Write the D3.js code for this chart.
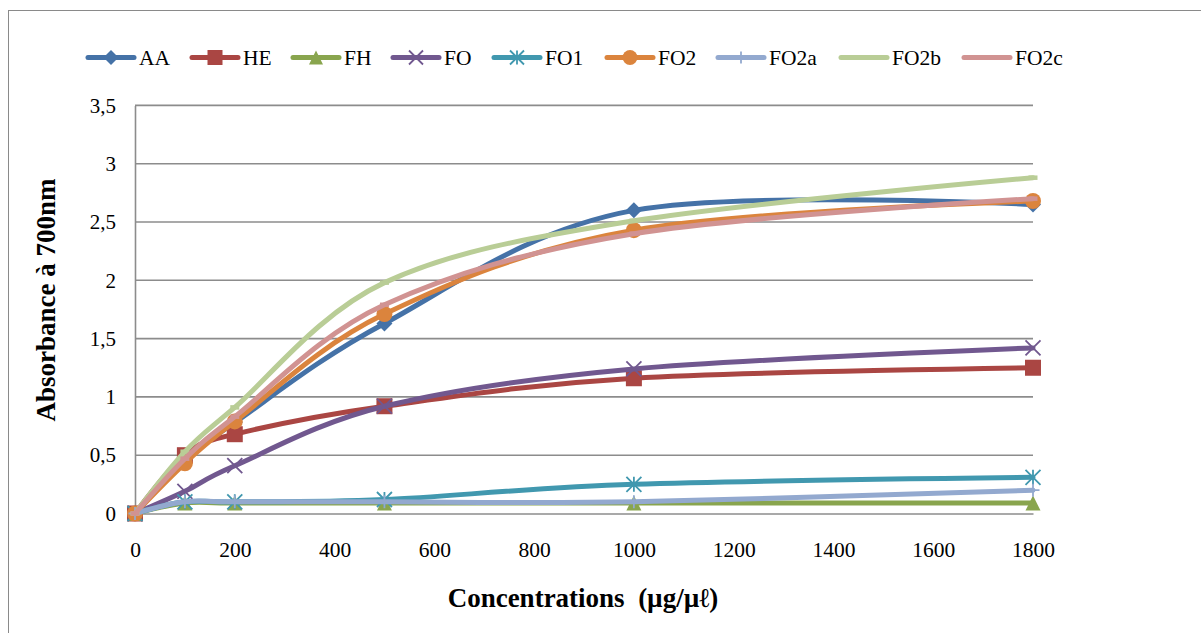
<!DOCTYPE html>
<html><head><meta charset="utf-8">
<script src="https://cdn.jsdelivr.net/npm/d3@7"></script>
<style>body{margin:0;background:#fff}svg{display:block}text{font-family:"Liberation Serif","Times New Roman",serif;fill:#000}</style>
</head><body><svg id="c" width="1201" height="633"></svg>
<script>
const concentrations = [0, 100, 200, 500, 1000, 1800];
const seriesNames = ["AA","HE","FH","FO","FO1","FO2","FO2a","FO2b","FO2c"];
const AA   = [0, 0.46, 0.78, 1.63, 2.60, 2.65];
const HE   = [0, 0.50, 0.68, 0.92, 1.16, 1.25];
const FH   = [0, 0.09, 0.09, 0.09, 0.09, 0.09];
const FO   = [0, 0.19, 0.41, 0.92, 1.24, 1.42];
const FO1  = [0, 0.10, 0.10, 0.12, 0.25, 0.31];
const FO2  = [0, 0.43, 0.79, 1.71, 2.43, 2.68];
const FO2a = [0, 0.10, 0.10, 0.10, 0.10, 0.20];
const FO2b = [0, 0.53, 0.91, 1.98, 2.51, 2.88];
const FO2c = [0, 0.47, 0.83, 1.79, 2.40, 2.70];
const xTicks = [0,200,400,600,800,1000,1200,1400,1600,1800];
const yTicks = [0,0.5,1,1.5,2,2.5,3,3.5];
const yTickLabels = ["0","0,5","1","1,5","2","2,5","3","3,5"];
const colors = ["#4572A7","#AA4643","#89A54E","#71588F","#4198AF","#DB843D","#93A9CF","#B9CD96","#D19392"];
const markers = ["diamond","square","triangle","x","star","circle","plus","dash","dash"];
const values = [AA,HE,FH,FO,FO1,FO2,FO2a,FO2b,FO2c];

const svg = d3.select("#c");
svg.append("rect").attr("x",8.5).attr("y",10.5).attr("width",1300).attr("height",700)
  .attr("fill","#fff").attr("stroke","#8a8a8a").attr("stroke-width",1);

const x = d3.scaleLinear().domain([0,1800]).range([135,1033]);
const y = d3.scaleLinear().domain([0,3.5]).range([513.5,105.4]);

// gridlines
svg.append("g").selectAll("line").data(yTicks.filter(d=>d>0)).join("line")
  .attr("x1",x(0)).attr("x2",x(1800)).attr("y1",d=>y(d)).attr("y2",d=>y(d))
  .attr("stroke","#8c8c8c").attr("stroke-width",1.6);

// axes
const yAxis = d3.axisLeft(y).tickValues(yTicks).tickFormat((d,i)=>yTickLabels[i]).tickSize(0).tickPadding(19);
const gy = svg.append("g").attr("transform",`translate(${x(0)},0)`).call(yAxis);
gy.select(".domain").attr("stroke","#8c8c8c").attr("stroke-width",1.6);
gy.selectAll("text").attr("font-size",21).style("font-family","'Liberation Serif',serif");

const xAxis = d3.axisBottom(x).tickValues(xTicks).tickFormat(d3.format("d")).tickSize(0).tickPadding(28);
const gx = svg.append("g").attr("transform",`translate(0,${y(0)})`).call(xAxis);
gx.select(".domain").attr("stroke","#8c8c8c").attr("stroke-width",1.6);
gx.selectAll("text").attr("font-size",21.5).style("font-family","'Liberation Serif',serif");

// marker drawing
function drawMarker(g, type, color, s) {
  const h = s/2;
  if (type==="diamond") g.append("path").attr("d",`M0,${-h}L${h},0L0,${h}L${-h},0Z`).attr("fill",color);
  else if (type==="square") g.append("rect").attr("x",-h).attr("y",-h).attr("width",s).attr("height",s).attr("fill",color);
  else if (type==="triangle") g.append("path").attr("d",`M0,${-h}L${h},${h}L${-h},${h}Z`).attr("fill",color);
  else if (type==="circle") g.append("circle").attr("r",h).attr("fill",color);
  else if (type==="x") g.append("path").attr("d",`M${-h},${-h}L${h},${h}M${h},${-h}L${-h},${h}`).attr("stroke",color).attr("stroke-width",1.8);
  else if (type==="star") g.append("path").attr("d",`M${-h},${-h}L${h},${h}M${h},${-h}L${-h},${h}M0,${-h}L0,${h}`).attr("stroke",color).attr("stroke-width",1.8);
  else if (type==="plus") g.append("path").attr("d",`M${-h},0L${h},0M0,${-h}L0,${h}`).attr("stroke",color).attr("stroke-width",1.8);
  else if (type==="dash") g.append("path").attr("d",`M${-h},0L${h},0`).attr("stroke",color).attr("stroke-width",4.5);
}

const line = d3.line().x((d,i)=>x(concentrations[i])).y(d=>y(d)).curve(d3.curveCardinal.tension(0));
const markerSize = {diamond:16,square:16,triangle:15,x:15,star:15,circle:16,plus:13,dash:9};

values.forEach((vals,si)=>{
  const g = svg.append("g");
  g.append("path").attr("d",line(vals)).attr("fill","none").attr("stroke",colors[si])
    .attr("stroke-width",5).attr("stroke-linejoin","round").attr("stroke-linecap","round");
  vals.forEach((v,i)=>{
    const mg = g.append("g").attr("transform",`translate(${x(concentrations[i])},${y(v)})`);
    drawMarker(mg, markers[si], colors[si], markerSize[markers[si]]);
  });
});

// legend
const legendX = [88,192,293,393,494,607,718,841,964];
const lg = svg.append("g");
seriesNames.forEach((n,i)=>{
  const x0 = legendX[i], yc = 57.5;
  lg.append("line").attr("x1",x0).attr("x2",x0+46).attr("y1",yc).attr("y2",yc)
    .attr("stroke",colors[i]).attr("stroke-width",5).attr("stroke-linecap","round");
  const mg = lg.append("g").attr("transform",`translate(${x0+23},${yc})`);
  if (markers[i]!=="dash") drawMarker(mg, markers[i], colors[i], markerSize[markers[i]]-1);
  lg.append("text").attr("x",x0+51).attr("y",yc+7.5).attr("font-size",21.5).text(n);
});

// titles
svg.append("text").attr("x",583).attr("y",607).attr("text-anchor","middle")
  .attr("font-size",27).attr("font-weight","bold").text("Concentrations\u00A0 (µg/µℓ)");
svg.append("text").attr("transform","translate(55,300) rotate(-90)").attr("text-anchor","middle")
  .attr("font-size",27).attr("font-weight","bold").text("Absorbance à 700nm");
</script></body></html>
